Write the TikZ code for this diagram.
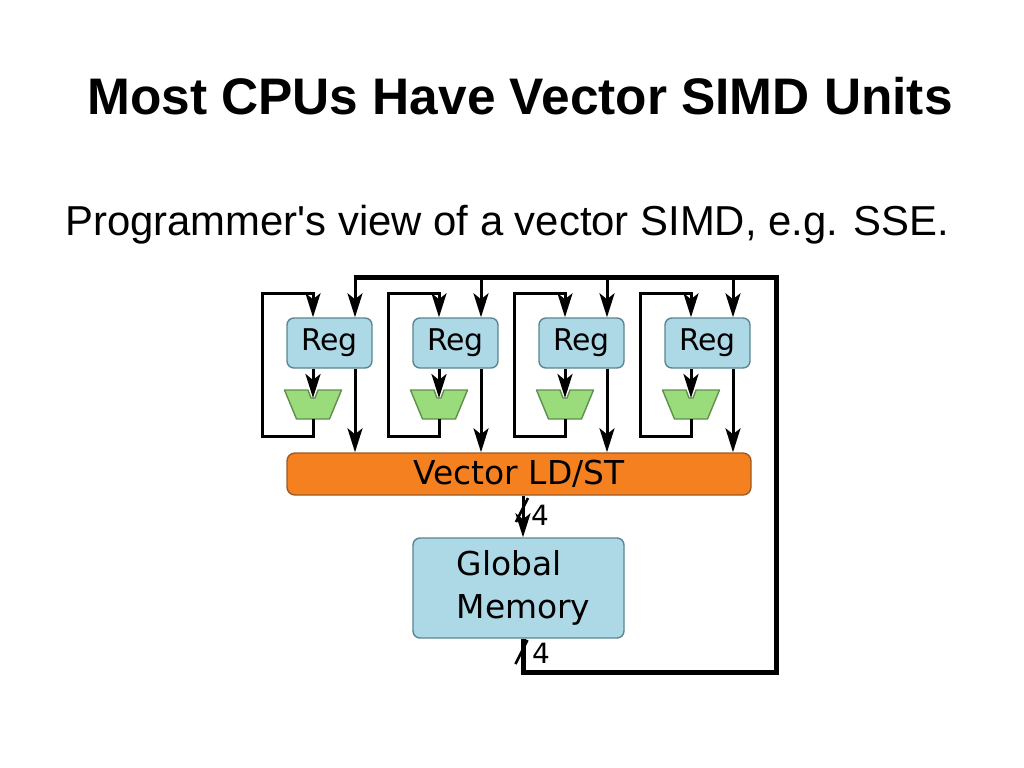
\documentclass[tikz,border=0pt]{standalone}
\usepackage{fontspec}
\setmainfont{Liberation Sans}
\newfontfamily\dejavu{DejaVu Sans}
\usetikzlibrary{arrows.meta}
\definecolor{regblue}{HTML}{ADD8E6}
\definecolor{regedge}{HTML}{5B8591}
\definecolor{alugreen}{HTML}{9ADB7C}
\definecolor{aluedge}{HTML}{5F8F4D}
\definecolor{ldstorange}{HTML}{F5801F}
\definecolor{ldstedge}{HTML}{9C5A24}

\begin{document}
\begin{tikzpicture}[x=1bp,y=-1bp,>={Stealth[length=24bp,width=15bp,inset=6bp]}]
  \tikzstyle{wire}=[line width=3bp,->]
  \tikzstyle{plain}=[line width=2.6bp]
  \tikzstyle{bus}=[line width=5bp,line join=miter]
  \tikzstyle{reg}=[draw=regedge,fill=regblue,rounded corners=7bp,line width=1.4bp,minimum width=85bp,minimum height=50bp,inner sep=0pt,font=\dejavu\fontsize{30}{30}\selectfont]
  \tikzstyle{unit}=[draw=ldstedge,fill=ldstorange,rounded corners=8bp,line width=1.4bp,inner sep=0pt,font=\dejavu\fontsize{33}{33}\selectfont]
  \tikzstyle{alu}=[draw=aluedge,fill=alugreen,line width=1.4bp,line join=round]
  \tikzstyle{lanes}=[font=\dejavu\fontsize{28}{28}\selectfont,inner sep=0pt]
  \useasboundingbox (0,0) rectangle (1024,768);

  \node[anchor=base,font=\bfseries\fontsize{51.6}{51.6}\selectfont] (title) at (520,114) {Most CPUs Have Vector SIMD Units};
  \node[anchor=base west,inner sep=0pt,font=\fontsize{42}{42}\selectfont] (sub) at (65,235) {Programmer\textquotesingle s view of a vector SIMD, e.g. SSE.};

  \node[unit,minimum width=464bp,minimum height=42bp] (ldst) at (519,474) {Vector LD/ST};
  \node[reg,minimum width=211bp,minimum height=100bp,align=left,font=\dejavu\fontsize{33}{44}\selectfont] (gm) at (518.5,588) {\hspace*{10bp}Global\\\hspace*{10bp}Memory};

  \foreach \i in {0,...,3}{
    \pgfmathsetmacro{\c}{329.5+126*\i}
    \node[reg] (reg\i) at (\c,343) {Reg};
    % alu with its input notch
    \filldraw[alu] (\c-45,390) -- (\c-21.5,390) -- (\c-18.5,398) -- (\c-14.5,398) -- (\c-11.5,390)
      -- (\c+12,390) -- (\c,419) -- (\c-33,419) -- cycle;
    \coordinate (alu\i) at (\c-16.5,398);
    \coordinate (alub\i) at (\c-16.5,419);
    \coordinate (rx\i) at (\c+25.5,277);
    \draw[wire] (reg\i.south -| alu\i) -- (alu\i);
    \draw[wire] (alub\i) -- ++(0,17) -| (\c-67.5,293) -| (reg\i.north -| alu\i);
    \draw[wire] (rx\i) -- (reg\i.north -| rx\i);
    \draw[wire] (reg\i.south -| rx\i) -- (ldst.north -| rx\i);
  }

  % memory path
  \coordinate (mx) at (523,0);
  \coordinate (busr) at (776,277);
  \coordinate (busb) at (776,672);
  \draw[bus] ([xshift=-1.5bp]rx0) -- (busr) -- (busb) -| (gm.south -| mx);
  \draw[wire] (ldst.south -| mx) -- (gm.north -| mx);

  \coordinate (cut1) at (522,510);
  \coordinate (cut2) at (521.5,652);
  \draw[plain] ([shift={(-6,12)}]cut1) -- ([shift={(6,-12)}]cut1);
  \draw[plain] ([shift={(-6,12)}]cut2) -- ([shift={(6,-12)}]cut2);
  \node[lanes] (n1) at (540,515) {4};
  \node[lanes] (n2) at (541,653) {4};
\end{tikzpicture}
\end{document}
